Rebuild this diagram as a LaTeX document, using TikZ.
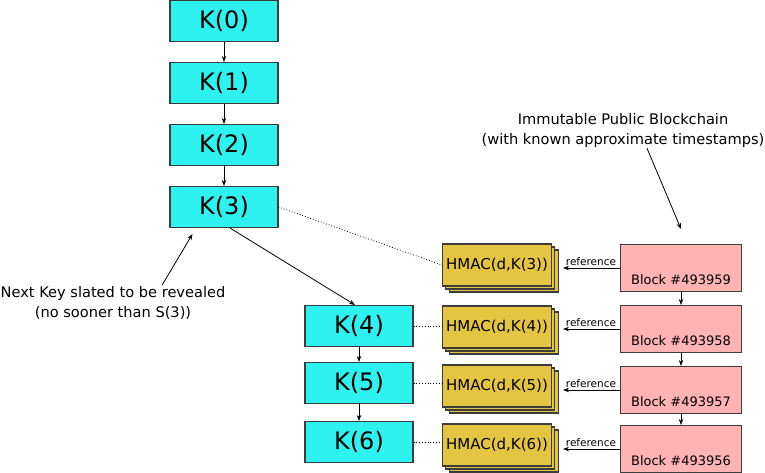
\documentclass[tikz,border=0pt]{standalone}
\usepackage{fontspec}
\setmainfont{DejaVu Sans}
\usetikzlibrary{
    arrows.meta,
    positioning,
    calc,
    shadows
}
\definecolor{keycyan}{RGB}{46,242,240}
\definecolor{hmacgold}{RGB}{228,197,66}
\definecolor{blockpink}{RGB}{255,179,179}
\definecolor{edgegray}{RGB}{60,60,60}
\tikzset{
    % --- Key in the hash chain ---
    key/.style = {
        rectangle, draw=edgegray, line width=1.1pt, fill=keycyan,
        minimum width=108pt, minimum height=41pt, inner sep=0pt,
        font=\fontsize{24}{28}\selectfont
    },
    % --- Stacked HMAC commitment ---
    hmac/.style = {
        rectangle, draw=edgegray, line width=1.1pt, fill=hmacgold,
        minimum width=109pt, minimum height=42pt, inner sep=0pt,
        font=\fontsize{15}{18}\selectfont,
        double copy shadow={shadow xshift=3.3pt, shadow yshift=-3pt,
            draw=edgegray, fill=hmacgold}
    },
    % --- Blockchain block ---
    chainblock/.style = {
        rectangle, draw=edgegray, line width=1.1pt, fill=blockpink,
        minimum width=121pt, minimum height=47pt, inner sep=0pt,
        align=center, font=\fontsize{13}{19}\selectfont
    },
    % --- Annotation text ---
    annotation/.style = {
        align=center, font=\fontsize{14.6}{20}\selectfont, inner sep=1pt
    },
    % --- Arrows and links ---
    link arrow/.style = {
        -{Stealth[length=6pt, width=4.5pt]}, line width=0.8pt
    },
    dotted link/.style = {
        dotted, line width=0.8pt
    },
    ref label/.style = {
        font=\fontsize{10.5}{12}\selectfont, inner sep=1.5pt
    }
}

\begin{document}
\begin{tikzpicture}[x=1pt, y=-1pt]
\useasboundingbox (0,0) rectangle (765,473);

% ---------------------------------------------------------
% Key chain (left column)
% ---------------------------------------------------------
\node[key] (K0) at (224, 21)  {K(0)};
\node[key] (K1) at (224, 83)  {K(1)};
\node[key] (K2) at (224, 145) {K(2)};
\node[key] (K3) at (224, 207) {K(3)};

\draw[link arrow] (K0.south) -- (K1.north);
\draw[link arrow] (K1.south) -- (K2.north);
\draw[link arrow] (K2.south) -- (K3.north);

% ---------------------------------------------------------
% Key chain (second column)
% ---------------------------------------------------------
\node[key] (K4) at (359, 326) {K(4)};
\node[key] (K5) at (359, 383) {K(5)};
\node[key] (K6) at (359, 442) {K(6)};

\draw[link arrow] ([xshift=6pt]K3.south) -- ([xshift=-4pt]K4.north);
\draw[link arrow] (K4.south) -- (K5.north);
\draw[link arrow] (K5.south) -- (K6.north);

% ---------------------------------------------------------
% HMAC commitments
% ---------------------------------------------------------
\node[hmac] (H3) at (497, 265) {HMAC(d,K(3))};
\node[hmac] (H4) at (497, 327) {HMAC(d,K(4))};
\node[hmac] (H5) at (497, 386) {HMAC(d,K(5))};
\node[hmac] (H6) at (497, 445) {HMAC(d,K(6))};

\draw[dotted link] (K3.east) -- (H3.west);
\draw[dotted link] (K4.east) -- (K4.east -| H4.west);
\draw[dotted link] (K5.east) -- (K5.east -| H5.west);
\draw[dotted link] (K6.east) -- (K6.east -| H6.west);

% ---------------------------------------------------------
% Blockchain (right column)
% ---------------------------------------------------------
\node[chainblock] (B0) at (681, 268) {\strut\\Block \#493959};
\node[chainblock] (B1) at (681, 329) {\strut\\Block \#493958};
\node[chainblock] (B2) at (681, 390) {\strut\\Block \#493957};
\node[chainblock] (B3) at (681, 449) {\strut\\Block \#493956};

\draw[link arrow] (B0.south) -- (B1.north);
\draw[link arrow] (B1.south) -- (B2.north);
\draw[link arrow] (B2.south) -- (B3.north);

% references: block -> HMAC
\draw[link arrow, shorten >=11pt] (B0.west) -- (B0.west -| H3.east)
    node[ref label, midway, above, xshift=5pt] {reference};
\draw[link arrow, shorten >=11pt] (B1.west) -- (B1.west -| H4.east)
    node[ref label, midway, above, xshift=5pt] {reference};
\draw[link arrow, shorten >=11pt] (B2.west) -- (B2.west -| H5.east)
    node[ref label, midway, above, xshift=5pt] {reference};
\draw[link arrow, shorten >=11pt] (B3.west) -- (B3.west -| H6.east)
    node[ref label, midway, above, xshift=5pt] {reference};

% ---------------------------------------------------------
% Annotations
% ---------------------------------------------------------
\node[annotation] (Chain) at (623, 130) {Immutable Public Blockchain\\(with known approximate timestamps)};
\draw[link arrow] ([xshift=24pt]Chain.south) -- ([yshift=15pt]B0.north);

\node[annotation] (Next) at (113, 303) {Next Key slated to be revealed\\(no sooner than S(3))};
\draw[link arrow] ([xshift=49pt]Next.north) -- ([xshift=23pt, yshift=-6pt]K3.south west);

\end{tikzpicture}
\end{document}
